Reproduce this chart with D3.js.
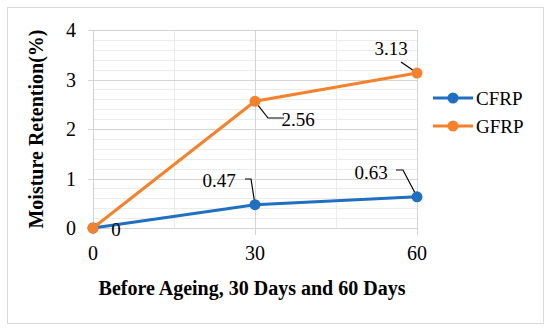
<!DOCTYPE html>
<html>
<head>
<meta charset="utf-8">
<script src="https://cdn.jsdelivr.net/npm/d3@7"></script>
<style>
  body { margin: 0; background: #fff; }
  text { font-family: "Liberation Serif", "Times New Roman", serif; }
</style>
</head>
<body>
<div id="chart"></div>
<script>
// data
var days = [0, 30, 60];
var cfrp = [0, 0.47, 0.63];
var gfrp = [0, 2.56, 3.13];
var seriesNames = ["CFRP", "GFRP"];
var xTicks = [0, 30, 60];
var yTicks = [0, 1, 2, 3, 4];

var width = 550, height = 330;
var margin = {top: 30, right: 128, bottom: 102, left: 93};

var svg = d3.select("#chart").append("svg")
    .attr("width", width)
    .attr("height", height);

// outer frame
svg.append("rect")
    .attr("x", 7.5).attr("y", 7.5)
    .attr("width", 536).attr("height", 316)
    .attr("fill", "#fff")
    .attr("stroke", "#d9d9d9");

var x = d3.scaleLinear().domain([0, 60]).range([margin.left, width - margin.right - 5]);
var y = d3.scaleLinear().domain([0, 4]).range([height - margin.bottom, margin.top]);

// minor gridlines
var g = svg.append("g");
g.selectAll(".minorY")
    .data(d3.range(0, 4.01, 0.2).filter(function (v) { return Math.abs(v - Math.round(v)) > 0.01; }))
    .enter().append("line")
    .attr("x1", x(0)).attr("x2", x(60))
    .attr("y1", function (d) { return Math.round(y(d)) + 0.5; })
    .attr("y2", function (d) { return Math.round(y(d)) + 0.5; })
    .attr("stroke", "#ececec");
g.selectAll(".minorX")
    .data([15, 45])
    .enter().append("line")
    .attr("x1", function (d) { return Math.round(x(d)) + 0.5; })
    .attr("x2", function (d) { return Math.round(x(d)) + 0.5; })
    .attr("y1", y(4)).attr("y2", y(0))
    .attr("stroke", "#ececec");

// major gridlines
g.selectAll(".majorY")
    .data(yTicks)
    .enter().append("line")
    .attr("x1", x(0) - 5).attr("x2", x(60))
    .attr("y1", function (d) { return Math.round(y(d)) + 0.5; })
    .attr("y2", function (d) { return Math.round(y(d)) + 0.5; })
    .attr("stroke", "#d4d4d4");
g.selectAll(".majorX")
    .data(xTicks)
    .enter().append("line")
    .attr("x1", function (d) { return Math.round(x(d)) + 0.5; })
    .attr("x2", function (d) { return Math.round(x(d)) + 0.5; })
    .attr("y1", y(4)).attr("y2", y(0) + 7)
    .attr("stroke", "#d4d4d4");

// tick labels
svg.selectAll(".ytl")
    .data(yTicks)
    .enter().append("text")
    .attr("x", x(0) - 22)
    .attr("y", function (d) { return y(d); })
    .attr("dy", "0.35em")
    .attr("text-anchor", "middle")
    .attr("font-size", 20)
    .text(function (d) { return d; });
svg.selectAll(".xtl")
    .data(xTicks)
    .enter().append("text")
    .attr("x", function (d) { return x(d); })
    .attr("y", y(0) + 25)
    .attr("dy", "0.35em")
    .attr("text-anchor", "middle")
    .attr("font-size", 20)
    .text(function (d) { return d; });

// axis titles
svg.append("text")
    .attr("transform", "translate(36," + ((y(0) + y(4)) / 2) + ") rotate(-90)")
    .attr("dy", "0.35em")
    .attr("text-anchor", "middle")
    .attr("font-size", 20)
    .attr("font-weight", "bold")
    .text("Moisture Retention(%)");
svg.append("text")
    .attr("x", 252)
    .attr("y", 288)
    .attr("dy", "0.35em")
    .attr("text-anchor", "middle")
    .attr("font-size", 20)
    .attr("font-weight", "bold")
    .text("Before Ageing, 30 Days and 60 Days");

// series
var colors = {CFRP: "#1f70c1", GFRP: "#f5822a"};
var series = [
    {name: "CFRP", values: cfrp},
    {name: "GFRP", values: gfrp}
];
var line = d3.line()
    .x(function (d, i) { return x(days[i]); })
    .y(function (d) { return y(d); });

series.forEach(function (s) {
    svg.append("path")
        .attr("d", line(s.values))
        .attr("fill", "none")
        .attr("stroke", colors[s.name])
        .attr("stroke-width", 3);
});

// data labels with leader lines
var labels = [
    {v: cfrp[0], i: 0, tx: 116, ty: 229, leader: null},
    {v: cfrp[1], i: 1, tx: 219, ty: 180, leader: [[245, 179], [251, 179]]},
    {v: cfrp[2], i: 2, tx: 371, ty: 172, leader: [[396, 170], [403, 170]]},
    {v: gfrp[1], i: 1, tx: 298, ty: 119, leader: [[284, 118], [268, 118]]},
    {v: gfrp[2], i: 2, tx: 391, ty: 48, leader: [[401, 62]]}
];
labels.forEach(function (l) {
    if (l.leader) {
        var pts = l.leader.concat([[x(days[l.i]), y(l.v)]]);
        svg.append("path")
            .attr("d", d3.line()(pts))
            .attr("fill", "none")
            .attr("stroke", "#000")
            .attr("stroke-width", 1.2);
    }
    svg.append("text")
        .attr("x", l.tx)
        .attr("y", l.ty)
        .attr("dy", "0.35em")
        .attr("text-anchor", "middle")
        .attr("font-size", 19)
        .text(l.v);
});

// point markers, over the leader lines
series.forEach(function (s) {
    s.values.forEach(function (v, i) {
        svg.append("circle")
            .attr("cx", x(days[i])).attr("cy", y(v))
            .attr("r", 5.5).attr("fill", colors[s.name]);
    });
});

// legend
var legend = svg.selectAll(".legend")
    .data(seriesNames)
    .enter().append("g")
    .attr("transform", function (d, i) { return "translate(433," + (98 + i * 28) + ")"; });
legend.append("line")
    .attr("x1", 0).attr("x2", 40)
    .attr("stroke", function (d) { return colors[d]; })
    .attr("stroke-width", 3);
legend.append("circle")
    .attr("cx", 20).attr("r", 5.5)
    .attr("fill", function (d) { return colors[d]; });
legend.append("text")
    .attr("x", 43)
    .attr("dy", "0.35em")
    .attr("font-size", 19)
    .text(function (d) { return d; });
</script>
</body>
</html>
